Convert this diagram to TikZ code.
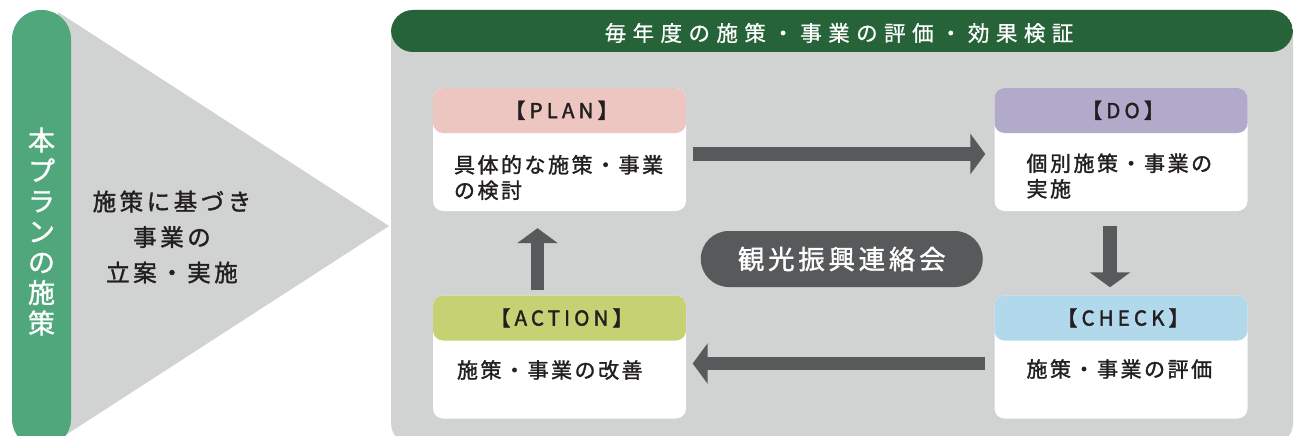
\documentclass[tikz,border=0pt]{standalone}
\usepackage{fontspec}
\usetikzlibrary{arrows.meta}
\newfontfamily\jp[FakeBold=1.2]{Noto Sans CJK JP}
\newfontfamily\jpTitle[LetterSpace=30,FakeBold=0.8]{Noto Sans CJK JP}
\newfontfamily\jpLeft[LetterSpace=15,FakeBold=1.5]{Noto Sans CJK JP}
\newfontfamily\jpBody[LetterSpace=12,FakeBold=1.5]{Noto Sans CJK JP}
\newfontfamily\jpHead[LetterSpace=20,FakeBold=1.8]{Noto Sans CJK JP}
\newfontfamily\jpPill[LetterSpace=14,FakeBold=1.2]{Noto Sans CJK JP}
\definecolor{sidegreen}{HTML}{4FA77B}
\definecolor{darkgreen}{HTML}{276339}
\definecolor{bggray}{HTML}{D1D3D2}
\definecolor{darkgray}{HTML}{58595B}
\definecolor{plancol}{HTML}{EDC6C1}
\definecolor{docol}{HTML}{B2AACB}
\definecolor{checkcol}{HTML}{B2D8EB}
\definecolor{actioncol}{HTML}{C6D173}
\definecolor{txt}{HTML}{231F20}
\tikzset{
  card/.style={fill=white, rounded corners=10pt, minimum width=253pt, minimum height=123pt, inner sep=0pt,
    path picture={\fill[#1] (path picture bounding box.north west) rectangle ([yshift=-45pt]path picture bounding box.north east);}},
  hlabel/.style={font=\jpHead\fontsize{20.5}{24}\selectfont, text=txt, inner sep=0pt},
  bodytext/.style={font=\jpBody\fontsize{21}{25.5}\selectfont, text=txt, align=left, anchor=west, inner sep=0pt},
  bigarrow/.style={draw=darkgray, line width=13.5pt, line cap=butt, -{Triangle[width=40pt,length=15pt]}}
}
\begin{document}
\begin{tikzpicture}[x=1pt,y=-1pt]
\useasboundingbox (0,0) rectangle (1295,436);
\begin{scope}
\clip (0,0) rectangle (1295,436);
% gray triangle
\fill[bggray] (58,12) -- (389,226) -- (58,440) -- cycle;
% left green pill
\node[fill=sidegreen, rounded corners=29pt, minimum width=59pt, minimum height=438pt, inner sep=0pt] (side) at (41.5,229) {};
\node[font=\jp\fontsize{27}{30.5}\selectfont, text=white, align=center, inner sep=0pt] (sidet) at (41.5,231.5) {本\\プ\\ラ\\ン\\の\\施\\策};
\node[font=\jpLeft\fontsize{23.5}{35.5}\selectfont, text=txt, align=center, inner sep=0pt] (leftt) at (172,237) {施策に基づき\\事業の\\立案・実施};
% main frame
\node[fill=bggray, rounded corners=22pt, minimum width=902pt, minimum height=435pt, inner sep=0pt,
  path picture={\fill[darkgreen] (path picture bounding box.north west) rectangle ([yshift=-42pt]path picture bounding box.north east);}] (frame) at (842,227.5) {};
\end{scope}
\node[font=\jpTitle\fontsize{21.5}{24}\selectfont, text=white, inner sep=0pt] (title) at (839,33) {毎年度の施策・事業の評価・効果検証};
% cards
\node[card=plancol] (plan) at (559.5,149.5) {};
\node[card=docol] (do) at (1121,149.5) {};
\node[card=checkcol] (check) at (1121,357) {};
\node[card=actioncol] (action) at (559.5,357) {};
\node[hlabel] (planh) at ([shift={(2,22.5)}]plan.north) {【PLAN】};
\node[hlabel] (doh) at ([shift={(2,22.5)}]do.north) {【DO】};
\node[hlabel] (checkh) at ([shift={(2,22.5)}]check.north) {【CHECK】};
\node[hlabel] (actionh) at ([shift={(2,22.5)}]action.north) {【ACTION】};
\node[bodytext] (plant) at ([shift={(21,28)}]plan.west) {具体的な施策・事業\\の検討};
\node[bodytext] (dot) at ([shift={(32,26.5)}]do.west) {個別施策・事業の\\実施};
\node[bodytext] (checkt) at ([shift={(32,12)}]check.west) {施策・事業の評価};
\node[bodytext] (actiont) at ([shift={(24,13)}]action.west) {施策・事業の改善};
% center pill
\node[fill=darkgray, rounded corners=28pt, minimum width=282pt, minimum height=56pt, inner sep=0pt,
  text=white, font=\jpPill\fontsize{26.5}{30}\selectfont] (council) at (841.75,259) {観光振興連絡会};
% arrows
\draw[bigarrow] ([shift={(7,4.5)}]plan.east) -- ([shift={(-9,4.5)}]do.west);
\draw[bigarrow] ([shift={(-11,15)}]do.south) -- ([shift={(-11,-8)}]check.north);
\draw[bigarrow] ([shift={(-9,6.5)}]check.west) -- ([shift={(6.5,6.5)}]action.east);
\draw[bigarrow] ([shift={(-22,-5.5)}]action.north) -- ([shift={(-22,17)}]plan.south);
\end{tikzpicture}
\end{document}
